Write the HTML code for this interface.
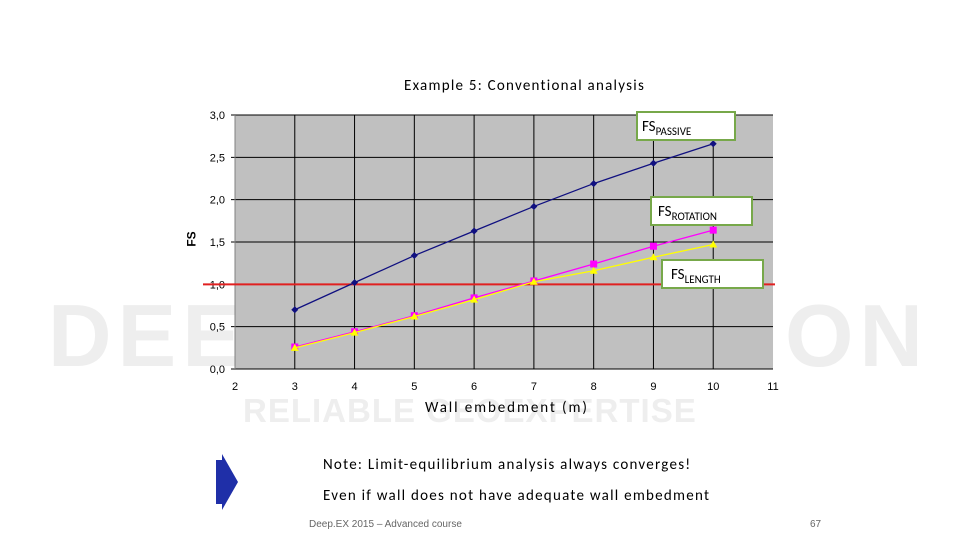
<!DOCTYPE html>
<html><head><meta charset="utf-8"><style>
body{margin:0;width:960px;height:540px;background:#fff;position:relative;overflow:hidden;font-family:"Liberation Sans",sans-serif}
.abs{position:absolute}
.cal{font-family:"Carlito","Liberation Sans",sans-serif;letter-spacing:1.25px;white-space:nowrap}
</style></head><body>
<div class="abs" style="left:48px;top:292px;width:870px;font-size:88px;font-weight:bold;color:#eeeeee;letter-spacing:6px;white-space:nowrap;line-height:1">DEEPEXCAVATION</div>
<div class="abs" style="left:243px;top:394px;width:480px;font-size:33px;font-weight:bold;color:#eeeeee;letter-spacing:1px;white-space:nowrap;line-height:1">RELIABLE GEOEXPERTISE</div>
<div class="abs cal" style="left:404px;top:77px;font-size:15px;color:#000">Example 5: Conventional analysis</div>
<svg class="abs" style="left:0;top:0" width="960" height="540">
<g id="g"></g>
</svg>
<div class="abs cal" style="left:425px;top:399px;font-size:15px;letter-spacing:1.9px">Wall embedment (m)</div>
<div class="abs" style="left:184px;top:232px;font-size:12px;font-weight:bold;transform:rotate(-90deg)">FS</div>
<div class="abs cal" style="left:636px;top:111px;width:96px;height:26px;border:2px solid #77a84a;background:#fff;font-size:15px;letter-spacing:0"><span style="position:relative;left:4px;top:5px">FS<sub style="font-size:11px">PASSIVE</sub></span></div>
<div class="abs cal" style="left:650px;top:196px;width:99px;height:26px;border:2px solid #77a84a;background:#fff;font-size:15px;letter-spacing:0"><span style="position:relative;left:6px;top:5px">FS<sub style="font-size:11px">ROTATION</sub></span></div>
<div class="abs cal" style="left:661px;top:259px;width:99px;height:26px;border:2px solid #77a84a;background:#fff;font-size:15px;letter-spacing:0"><span style="position:relative;left:8px;top:5px">FS<sub style="font-size:11px">LENGTH</sub></span></div>
<svg class="abs" style="left:214px;top:452px" width="26" height="60"><polygon points="2,8 8,8 8,2 24,30 8,58 8,52 2,52" fill="#1f2fa8"/></svg>
<div class="abs cal" style="left:323px;top:456px;font-size:15px">Note: Limit-equilibrium analysis always converges!</div>
<div class="abs cal" style="left:323px;top:487px;font-size:15px">Even if wall does not have adequate wall embedment</div>
<div class="abs" style="left:309px;top:519px;font-size:10px;color:#666">Deep.EX 2015 – Advanced course</div>
<div class="abs" style="left:810px;top:519px;font-size:10px;color:#666">67</div>
<script>
const xs=[3,4,5,6,7,8,9,10];
const passive=[0.70,1.02,1.34,1.63,1.92,2.19,2.43,2.66];
const rotation=[0.26,0.44,0.63,0.84,1.04,1.24,1.45,1.64];
const lengthFS=[0.25,0.43,0.62,0.82,1.03,1.16,1.32,1.47];
const xTicks=[2,3,4,5,6,7,8,9,10,11];
const yTicks=[0,0.5,1,1.5,2,2.5,3];
const L=235,R=773,T=115,B=369;
const X=v=>L+(v-2)/9*(R-L), Y=v=>B-v/3*(B-T);
const g=document.getElementById('g');const NS='http://www.w3.org/2000/svg';
function el(t,a){const e=document.createElementNS(NS,t);for(const k in a)e.setAttribute(k,a[k]);g.appendChild(e);return e;}
let r=el('rect',{x:L,y:T,width:R-L,height:B-T,fill:'#c0c0c0'});


yTicks.forEach(v=>{let l=el('line',{x1:L-4,x2:R,y1:Y(v),y2:Y(v),stroke:'#000','stroke-width':1});


let t=el('text',{x:L-10,y:Y(v)+4,'text-anchor':'end','font-size':11,fill:'#000','font-family':'Liberation Sans'});t.textContent=v.toFixed(1).replace('.',',');

});
xTicks.forEach(v=>{if(v>2&&v<11){let l=el('line',{x1:X(v),x2:X(v),y1:T,y2:B,stroke:'#000','stroke-width':1});

}
let t=el('text',{x:X(v),y:B+21,'text-anchor':'middle','font-size':11,fill:'#000','font-family':'Liberation Sans'});t.textContent=v;

});
let al=el('line',{x1:L,x2:L,y1:T,y2:B,stroke:'#808080'});


let red=el('line',{x1:203,x2:775,y1:Y(1),y2:Y(1),stroke:'#e02020','stroke-width':2});


function series(arr,col,mk,name){
 let p=el('polyline',{points:arr.map((v,i)=>X(xs[i])+','+Y(v)).join(' '),fill:'none',stroke:col,'stroke-width':1.3});
 
 
 arr.forEach((v,i)=>{const x=X(xs[i]),y=Y(v);let m;
  if(mk==='d')m=el('polygon',{points:`${x},${y-3.5} ${x+3.5},${y} ${x},${y+3.5} ${x-3.5},${y}`,fill:col});
  else if(mk==='s')m=el('rect',{x:x-3.5,y:y-3.5,width:7,height:7,fill:col});
  else m=el('polygon',{points:`${x},${y-4} ${x+4},${y+3} ${x-4},${y+3}`,fill:col});
  
  });
}
series(passive,'#101080','d','passive');
series(rotation,'#ff00ff','s','rotation');
series(lengthFS,'#ffff00','t','length');
</script>
</body></html>
